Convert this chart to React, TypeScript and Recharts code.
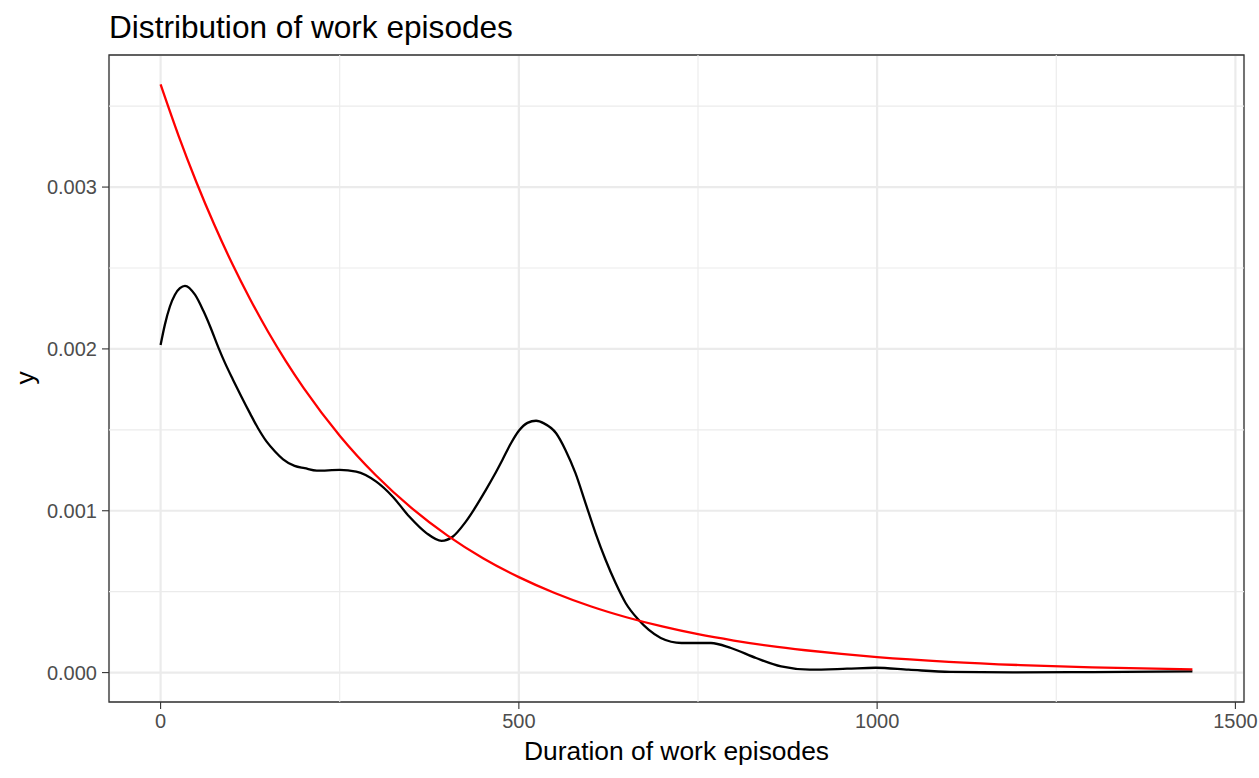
import React from 'react';
import {
  ComposedChart,
  Line,
  XAxis,
  YAxis,
  CartesianGrid,
  ReferenceLine,
  ReferenceArea
} from 'recharts';

// kernel density of work episode durations (black)
const densityX = [
  0, 6, 13, 20, 27, 34, 48, 60, 69, 81, 90, 101, 113, 125, 136, 148, 160, 171, 187,
  201, 218, 250, 273, 301, 324, 347, 371, 392, 408, 426, 454, 466, 477, 489, 500,
  512, 524, 535, 552, 565, 579, 593, 607, 621, 635, 649, 667, 681, 698, 727, 768,
  796, 831, 866, 906, 958, 998, 1044, 1102, 1189, 1300, 1440
];
const densityY = [
  0.002024, 0.00215, 0.002262, 0.002335, 0.002375, 0.00239, 0.002335, 0.002232,
  0.00214, 0.002005, 0.001912, 0.00181, 0.001703, 0.0016, 0.00151, 0.001427,
  0.001365, 0.001318, 0.001277, 0.001263, 0.001248, 0.001252, 0.001242, 0.00118,
  0.001087, 0.000964, 0.000862, 0.000814, 0.000841, 0.000933, 0.001129, 0.001222,
  0.001314, 0.001417, 0.001494, 0.001543, 0.001556, 0.00154, 0.001479, 0.001376,
  0.001232, 0.001047, 0.000862, 0.000697, 0.000553, 0.00043, 0.000326, 0.000265,
  0.000214, 0.000183, 0.000183, 0.000152, 0.00009, 0.000038, 0.000018, 0.000024,
  0.00003, 0.000018, 0.000004, 0.000001, 0.000003, 0.000007
];

// fitted exponential curve (red)
const expX = [
  0, 25, 50, 75, 100, 125, 150, 175, 200, 250, 300, 350, 400, 450, 500, 550, 600,
  650, 700, 750, 800, 850, 900, 950, 1000, 1100, 1200, 1300, 1440
];
const expY = [
  0.003634, 0.003318, 0.00303, 0.002767, 0.002526, 0.002307, 0.002106, 0.001923,
  0.001756, 0.001464, 0.001221, 0.001018, 0.000848, 0.000707, 0.00059, 0.000492,
  0.00041, 0.000342, 0.000285, 0.000237, 0.000198, 0.000165, 0.000138, 0.000115,
  0.0000957, 0.0000665, 0.0000462, 0.0000322, 0.0000193
];

const xTicks = [0, 500, 1000, 1500];
const yTicks = [0, 0.001, 0.002, 0.003];
const xMinor = [250, 750, 1250];
const yMinor = [0.0005, 0.0015, 0.0025, 0.0035];

const xDomain: [number, number] = [-72, 1512];
const yDomain: [number, number] = [-0.0001817, 0.003816];

const densityData = densityX.map((x, i) => ({ x, y: densityY[i] }));
const expData = expX.map((x, i) => ({ x, y: expY[i] }));

const FONT = '"Liberation Sans", Arial, Helvetica, sans-serif';

export default function App() {
  return (
    <div style={{ position: 'absolute', left: 0, top: 0, width: 1259, height: 778, background: '#fff', fontFamily: FONT }}>
      <div style={{ position: 'absolute', left: 109, top: 12, fontSize: 31.6, lineHeight: 1, color: '#000', whiteSpace: 'nowrap' }}>
        Distribution of work episodes
      </div>
      <div style={{ position: 'absolute', left: 0, width: 1259, paddingLeft: 109, paddingRight: 15, boxSizing: 'border-box', top: 738, textAlign: 'center', fontSize: 26.4, lineHeight: 1, color: '#000' }}>
        Duration of work episodes
      </div>
      <div style={{ position: 'absolute', left: 25, top: 378, fontSize: 26.4, lineHeight: 1, color: '#000', transform: 'translate(-50%, -50%) rotate(-90deg)' }}>
        y
      </div>
      <ComposedChart
        width={1259}
        height={778}
        margin={{ top: 55, right: 15, left: 0, bottom: 0 }}
      >
        <CartesianGrid stroke="#EBEBEB" strokeWidth={2.2} />
        {xMinor.map(v => (
          <ReferenceLine key={'mx' + v} x={v} stroke="#EBEBEB" strokeWidth={1.1} />
        ))}
        {yMinor.map(v => (
          <ReferenceLine key={'my' + v} y={v} stroke="#EBEBEB" strokeWidth={1.1} />
        ))}
        <XAxis
          type="number"
          dataKey="x"
          domain={xDomain}
          ticks={xTicks}
          allowDataOverflow
          height={76}
          axisLine={false}
          tickSize={7}
          tickMargin={5}
          tickLine={{ stroke: '#333333', strokeWidth: 1.1 }}
          tick={{ fill: '#4D4D4D', fontSize: 20, fontFamily: FONT }}
        />
        <YAxis
          type="number"
          domain={yDomain}
          ticks={yTicks}
          allowDataOverflow
          width={109}
          axisLine={false}
          tickSize={7}
          tickMargin={5}
          tickLine={{ stroke: '#333333', strokeWidth: 1.1 }}
          tick={{ fill: '#4D4D4D', fontSize: 20, fontFamily: FONT }}
          tickFormatter={(v: number) => v.toFixed(3)}
        />
        <Line
          data={densityData}
          dataKey="y"
          type="monotone"
          stroke="#000000"
          strokeWidth={2.3}
          dot={false}
          activeDot={false}
          isAnimationActive={false}
        />
        <Line
          data={expData}
          dataKey="y"
          type="monotone"
          stroke="#FF0000"
          strokeWidth={2.3}
          dot={false}
          activeDot={false}
          isAnimationActive={false}
        />
        <ReferenceArea
          x1={xDomain[0]}
          x2={xDomain[1]}
          y1={yDomain[0]}
          y2={yDomain[1]}
          fill="none"
          stroke="#333333"
          strokeWidth={1.3}
          ifOverflow="visible"
        />
      </ComposedChart>
    </div>
  );
}
